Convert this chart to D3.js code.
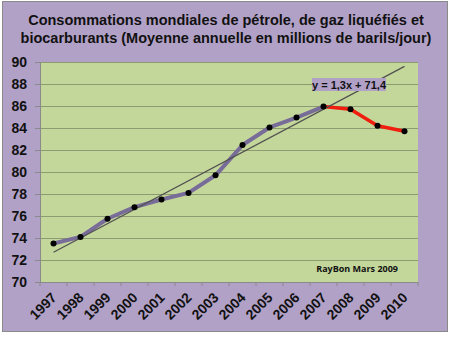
<!DOCTYPE html>
<html><head><meta charset="utf-8">
<script src="https://cdn.jsdelivr.net/npm/d3@7"></script>
<style>body{margin:0;background:#fff}svg{display:block}</style>
</head><body>
<svg id="c" width="450" height="338"></svg>
<script>
const years = ["1997","1998","1999","2000","2001","2002","2003","2004","2005","2006","2007","2008","2009","2010"];
const values = [73.5,74.1,75.75,76.8,77.5,78.1,79.7,82.45,84.05,84.95,85.95,85.7,84.2,83.7];
const yTicks = [70,72,74,76,78,80,82,84,86,88,90];
const trendSlope = 1.3, trendIntercept = 71.4;
const trendLabel = "y = 1,3x + 71,4";
const titleLines = ["Consommations mondiales de pétrole, de gaz liquéfiés et","biocarburants (Moyenne annuelle en millions de barils/jour)"];
const credit = "RayBon Mars 2009";
const splitIndex = 10; // 2007 onward drawn in red

const svg = d3.select("#c");
const L=40, R=418, T=62, B=282;
svg.append("rect").attr("x",2.5).attr("y",1.5).attr("width",445).attr("height",330)
  .attr("fill","#b2a1c7").attr("stroke","#8a8a8a");

svg.selectAll("text.title").data(titleLines).enter().append("text")
  .attr("x",226).attr("y",(d,i)=>25+i*18).attr("text-anchor","middle")
  .attr("font-family","Liberation Sans, Arial").attr("font-weight","bold").attr("font-size",14.5)
  .attr("fill","#111").text(d=>d);

const x = d3.scaleBand().domain(years).range([L,R]);
const y = d3.scaleLinear().domain([70,90]).range([B,T]);

svg.append("rect").attr("x",L).attr("y",T).attr("width",R-L).attr("height",B-T).attr("fill","#c4d79b");

// gridlines
svg.append("g").selectAll("line").data(yTicks.slice(1)).enter().append("line")
  .attr("x1",L).attr("x2",R).attr("y1",d=>Math.round(y(d))+0.5).attr("y2",d=>Math.round(y(d))+0.5)
  .attr("stroke","#8c9b72").attr("stroke-width",1);

// y axis
const ya = svg.append("g").attr("transform",`translate(${L},0)`)
  .call(d3.axisLeft(y).tickValues(yTicks).tickSize(5).tickPadding(8));
ya.select(".domain").attr("stroke","#8a8a8a");
ya.selectAll(".tick line").attr("stroke","#8a8a8a");
ya.selectAll("text").attr("font-family","Liberation Sans, Arial").attr("font-weight","bold")
  .attr("font-size",14).attr("fill","#111");

// x axis
const xa = svg.append("g").attr("transform",`translate(0,${B})`)
  .call(d3.axisBottom(x).tickSize(0).tickPadding(0));
xa.select(".domain").attr("stroke","#8a8a8a");
xa.selectAll(".tick text")
  .attr("font-family","Liberation Sans, Arial").attr("font-weight","bold").attr("font-size",14).attr("fill","#111")
  .attr("text-anchor","end").attr("dy",0).attr("transform","translate(4,16.5) rotate(-45)");
// band boundary ticks
svg.append("g").selectAll("line").data(years.concat(["_end"])).enter().append("line")
  .attr("x1",(d,i)=>L+i*x.step()).attr("x2",(d,i)=>L+i*x.step())
  .attr("y1",B).attr("y2",B+4).attr("stroke","#8a8a8a");

const cx = d=>x(d)+x.bandwidth()/2;
const pts = years.map((d,i)=>({yr:d,v:values[i]}));
const line = d3.line().x(d=>cx(d.yr)).y(d=>y(d.v));

svg.append("path").datum(pts.slice(0,splitIndex+1)).attr("d",line)
  .attr("fill","none").attr("stroke","#786c98").attr("stroke-width",4).attr("stroke-linejoin","round");
svg.append("path").datum(pts.slice(splitIndex)).attr("d",line)
  .attr("fill","none").attr("stroke","#f01e0e").attr("stroke-width",3.5).attr("stroke-linejoin","round");

// trend line
const n = years.length;
svg.append("line")
  .attr("x1",cx(years[0])).attr("y1",y(trendSlope*1+trendIntercept))
  .attr("x2",cx(years[n-1])).attr("y2",y(trendSlope*n+trendIntercept))
  .attr("stroke","#505050").attr("stroke-width",1.2);

svg.append("g").selectAll("circle").data(pts).enter().append("circle")
  .attr("cx",d=>cx(d.yr)).attr("cy",d=>y(d.v)).attr("r",3).attr("fill","#000");

// trend label
const lbl = svg.append("g");
lbl.append("rect").attr("x",312).attr("y",78).attr("width",74).attr("height",13).attr("fill","#b2a1c7");
lbl.append("text").attr("x",349).attr("y",88.5).attr("text-anchor","middle")
  .attr("font-family","Liberation Sans, Arial").attr("font-weight","bold").attr("font-size",11).attr("fill","#111")
  .text(trendLabel);

svg.append("text").attr("x",398).attr("y",272).attr("text-anchor","end")
  .attr("font-family","Open Sans, Lato, sans-serif").attr("font-weight","bold").attr("font-size",9).attr("fill","#111")
  .text(credit);
</script>
</body></html>
